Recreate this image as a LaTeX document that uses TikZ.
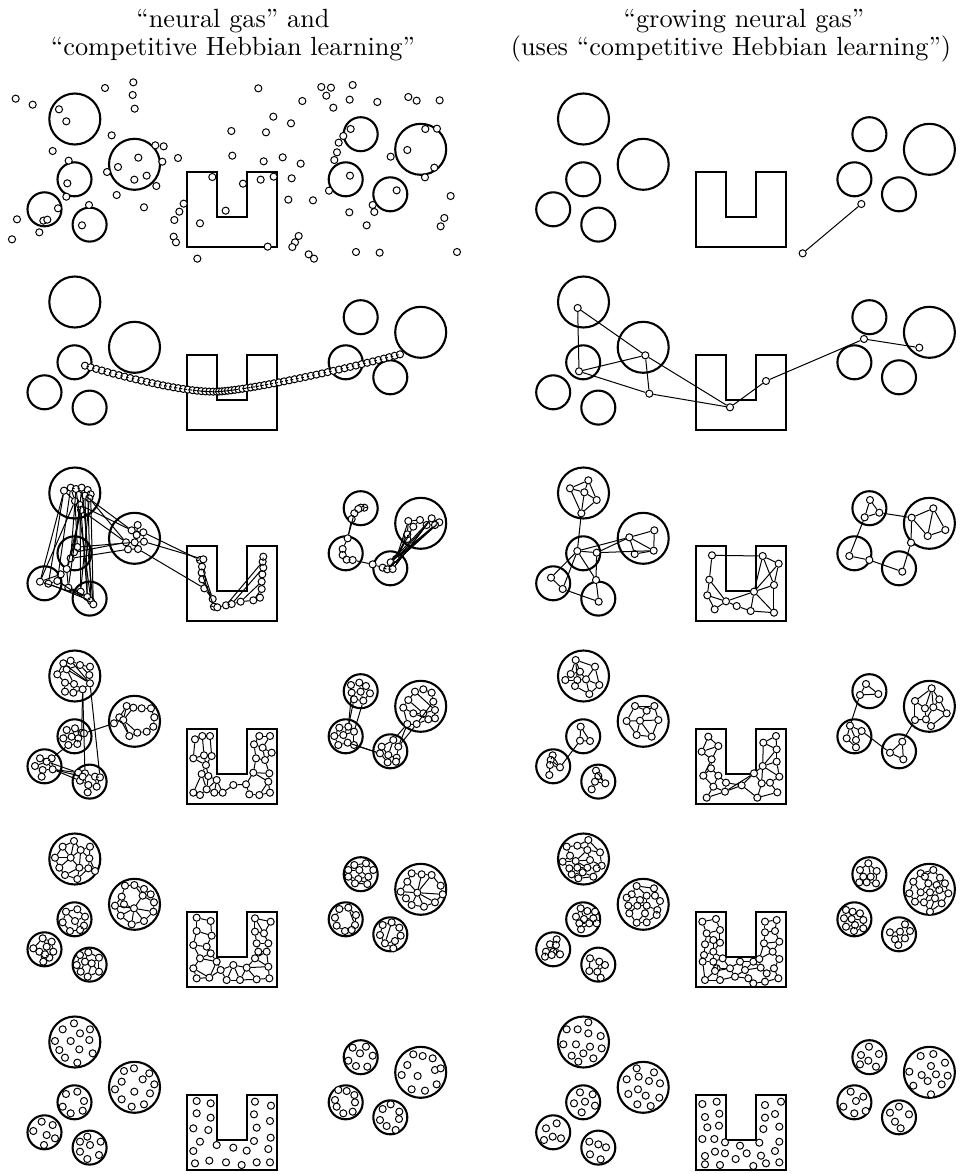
\documentclass[tikz,border=0pt]{standalone}
\usepackage{tikz}

%Circulos y la U de cada campo, con la esquina de la U en (#1,#2)
\newcommand{\campo}[2]{%
	\begin{scope}[shift={(#1,#2)}]
		\draw[borde] (-112.5,-53) circle[radius=25.5];
		\draw[borde] (-52.8,-7.7) circle[radius=25.5];
		\draw[borde] (-112.8,7.3) circle[radius=17];
		\draw[borde] (-142.8,37.3) circle[radius=17];
		\draw[borde] (-97.7,52.6) circle[radius=17];
		\draw[borde] (173.4,-37.8) circle[radius=17];
		\draw[borde] (233.4,-22.7) circle[radius=25.5];
		\draw[borde] (158.4,7.3) circle[radius=17];
		\draw[borde] (203,22.3) circle[radius=17];
		\draw[borde] (0,0) -- (30,0) -- (30,45) -- (60,45) -- (60,0) -- (90,0) -- (90,75) -- (0,75) -- cycle;
	\end{scope}}

\begin{document}
\begin{tikzpicture}[x=0.38pt, y=-0.38pt,
			 punto/.style={circle, draw, fill=white, inner sep=0pt, minimum size=2.7pt, line width=0.38pt},
			 arista/.style={line width=0.38pt},
			 borde/.style={line width=0.8pt},
			 rejilla/.style={x=0.12667pt, y=-0.12667pt},
			 titulo/.style={anchor=base, font=\fontsize{10}{12}\selectfont}
  		]
	\useasboundingbox (0,0) rectangle (967,1174);

	%Titulos
		\node[titulo] (tituloNG) at (233,27) {“neural gas” and};
		\node[titulo] (tituloCHL) at (233,55) {“competitive Hebbian learning”};
		\node[titulo] (tituloGNG) at (744,27) {“growing neural gas”};
		\node[titulo] (tituloUsa) at (731,55) {(uses “competitive Hebbian learning”)};

	%Campos
		\foreach \y in {172,355,546,729,912,1095} {
			\campo{187.3}{\y}
			\campo{696}{\y}
		}

	%Fila 1: neural gas al inicio
	\begin{scope}[shift={(0,0)}, rejilla]
		\foreach \x/\y [count=\i] in {47/296, 98/314, 177/328, 199/364, 315/264, 400/247, 398/285, 404/326, 335/406, 158/453, 206/482, 202/550, 199/590, 267/615, 174/625, 246/676, 51/658, 36/718, 118/697, 130/662, 142/659, 466/436, 491/439, 487/485, 415/473, 354/501, 321/516, 403/539, 440/527, 469/558, 350/585, 432/622, 534/474, 551/611, 538/635, 523/660, 600/670, 521/710, 528/727, 592/776, 637/531, 729/551, 677/632, 782/539, 821/530, 803/740, 775/265, 694/393, 697/467, 820/350, 798/397, 873/370, 907/303, 791/484, 848/472, 902/491, 875/535, 865/599, 939/601, 896/708, 885/727, 877/741, 926/763, 942/776, 964/261, 993/263, 979/287, 1058/255, 1049/299, 1000/323, 1132/306, 1225/291, 1250/302, 1319/301, 1052/387, 1030/408, 1016/428, 1011/457, 1003/480, 1050/527, 987/572, 1048/637, 1100/676, 1118/615, 1123/636, 1190/571, 1172/470, 1222/450, 1276/387, 1311/386, 1303/503, 1275/532, 1352/588, 1333/654, 1322/679, 1371/756, 1068/756, 1139/758}
			\node[punto] (ng1-\i) at (\x,\y) {};
	\end{scope}

	%Fila 1 y 2: growing neural gas
	\begin{scope}[shift={(500,60)}, rejilla]
		\node[punto] (gng1-1) at (1084,432) {};
		\node[punto] (gng1-2) at (908,580) {};
		\draw[arista] (gng1-1) -- (gng1-2);

		\foreach \x/\y [count=\i] in {233/744, 237/934, 436/886, 448/1001, 690/1042, 798/963, 1092/837, 1258/863}
			\node[punto] (gng2-\i) at (\x,\y) {};
		\foreach \a/\b in {1/2, 1/3, 3/5, 2/3, 2/4, 3/4, 4/5, 5/6, 6/7, 7/8}
			\draw[arista] (gng2-\a) -- (gng2-\b);
	\end{scope}

	%Fila 2: neural gas, cadena
	\begin{scope}[shift={(0,265)}, rejilla]
		\foreach \i in {0,...,25}
			\path (255,302) .. controls (400,345) and (560,382) .. (650,380) node[punto, pos=\i/26] (ng2-\i) {};
		\foreach \i [evaluate=\i as \k using int(\i+26)] in {0,...,38}
			\path (650,380) .. controls (740,376) and (1000,322) .. (1200,268) node[punto, pos=\i/38] (ng2-\k) {};
		\foreach \i [evaluate=\i as \j using int(\i+1)] in {0,...,63}
			\draw[arista] (ng2-\i) -- (ng2-\j);
	\end{scope}

	%Fila 3: neural gas
	\begin{scope}[shift={(0,445)}, rejilla]
		\foreach \x/\y [count=\i] in {192/137, 212/128, 228/132, 245/128, 263/135, 272/148, 255/152, 268/160, 225/168, 240/180, 243/195, 232/306, 222/322, 212/340, 200/372, 182/388, 120/410, 145/416, 172/408, 205/428, 242/440, 262/456, 273/468, 280/478, 413/240, 395/256, 430/262, 410/270, 378/292, 404/292, 432/290, 384/313, 414/312, 600/345, 610/343, 606/365, 605/383, 607/403, 613/430, 638/462, 642/485, 652/487, 678/481, 695/477, 722/470, 760/466, 780/458, 785/432, 785/410, 787/388, 790/368, 788/350, 790/335, 1093/188, 1082/188, 1075/192, 1063/205, 1055/222, 1043/280, 1028/312, 1028/330, 1040/344, 1058/345, 1118/358, 1148/368, 1162/373, 1178/372, 1188/342, 1172/352, 1225/228, 1240/245, 1260/225, 1280/240, 1295/220, 1318/232, 1305/240, 1222/282, 1222/268}
			\node[punto] (ng3-\i) at (\x,\y) {};
		\foreach \a/\b in {1/2, 2/3, 3/4, 4/5, 5/6, 6/7, 7/8, 3/7, 1/9, 9/10, 10/11, 2/9, 4/10, 7/11, 5/8, 1/17, 2/19, 9/17, 10/21, 11/22, 3/23, 4/24, 6/24, 7/22, 8/21, 11/14, 10/13, 9/12, 1/18, 5/23, 11/15, 3/14, 10/20, 12/13, 13/14, 14/15, 15/16, 12/30, 13/29, 14/32, 7/26, 8/29, 11/29, 10/26, 17/18, 18/19, 19/20, 20/21, 16/19, 15/20, 17/22, 18/23, 19/24, 20/22, 16/17, 21/22, 22/23, 23/24, 25/26, 26/27, 27/28, 28/30, 29/30, 30/31, 31/27, 32/33, 29/32, 30/33, 25/28, 27/34, 31/35, 33/39, 34/35, 35/36, 36/37, 37/38, 38/39, 39/40, 40/41, 41/42, 42/43, 43/44, 44/45, 45/46, 46/47, 47/48, 48/49, 49/50, 50/51, 51/52, 52/53, 36/40, 38/40, 37/41, 44/51, 43/52, 45/49, 46/48, 54/55, 55/56, 56/57, 57/58, 58/59, 57/59, 59/60, 60/61, 61/62, 62/63, 63/64, 64/65, 65/66, 66/67, 67/69, 68/69, 66/68, 70/71, 71/72, 72/73, 73/74, 74/75, 75/76, 70/72, 76/73, 77/78, 78/70, 68/70, 68/71, 68/73, 68/75, 69/76, 69/74, 66/75, 67/73, 69/77, 68/78, 67/74, 66/76}
			\draw[arista] (ng3-\a) -- (ng3-\b);
	\end{scope}

	%Fila 3: growing neural gas
	\begin{scope}[shift={(500,445)}, rejilla]
		\foreach \x/\y [count=\i] in {210/130, 265/106, 253/142, 290/165, 244/205, 232/318, 290/323, 153/398, 188/432, 288/405, 296/470, 388/277, 463/256, 404/327, 461/317, 636/331, 628/404, 622/451, 644/493, 678/469, 710/483, 752/498, 762/440, 822/503, 822/420, 788/333, 836/356, 1110/165, 1094/217, 1138/203, 1235/218, 1300/190, 1283/273, 1336/255, 1233/293, 1048/333, 1108/345, 1207/380}
			\node[punto] (gng3-\i) at (\x,\y) {};
		\foreach \a/\b in {1/2, 1/3, 2/3, 3/4, 2/4, 1/5, 4/5, 3/5, 5/6, 6/7, 6/8, 6/9, 8/9, 6/10, 7/10, 10/11, 9/11, 6/12, 7/12, 7/15, 12/13, 12/14, 12/15, 13/15, 14/15, 16/17, 16/26, 17/18, 17/20, 18/19, 18/20, 19/20, 20/21, 21/22, 22/23, 20/23, 23/24, 23/25, 23/26, 23/27, 26/27, 26/25, 27/25, 25/24, 22/24, 28/29, 28/30, 29/30, 30/31, 29/36, 31/32, 31/33, 32/33, 32/34, 33/34, 31/35, 35/38, 36/37, 37/38}
			\draw[arista] (gng3-\a) -- (gng3-\b);
	\end{scope}

	%Fila 4: neural gas
	\begin{scope}[shift={(0,630)}, rejilla]
		\foreach \x/\y [count=\i] in {190/100, 212/92, 240/105, 270/110, 172/133, 200/118, 268/135, 195/158, 222/162, 248/178, 270/160, 220/188, 195/185, 200/300, 225/295, 245/308, 190/325, 215/320, 235/325, 205/345, 232/342, 252/310, 380/228, 400/233, 425/235, 453/235, 463/262, 460/290, 440/305, 412/308, 388/318, 358/262, 342/280, 370/270, 120/385, 155/385, 105/408, 140/395, 128/420, 158/418, 125/440, 235/428, 255/430, 285/440, 300/442, 240/452, 265/465, 290/470, 263/487, 248/440, 585/328, 607/318, 630/318, 580/385, 612/376, 635/378, 618/405, 605/432, 625/438, 650/450, 580/488, 600/495, 620/478, 643/488, 668/488, 700/465, 738/463, 760/428, 778/318, 810/318, 762/343, 788/353, 815/368, 768/385, 795/390, 808/430, 805/455, 748/493, 778/495, 810/488, 1053/165, 1078/158, 1098/168, 1055/188, 1082/185, 1110/190, 1062/208, 1090/212, 1018/293, 1045/290, 1003/318, 1030/315, 1062/305, 1015/345, 1043/338, 1062/345, 1145/350, 1180/330, 1195/350, 1165/375, 1190/383, 1163/397, 1188/395, 1140/370, 1245/185, 1270/178, 1295/188, 1225/210, 1300/215, 1210/233, 1240/250, 1270/250, 1305/240, 1222/282, 1250/282, 1285/268, 1305/265}
			\node[punto] (ng4-\i) at (\x,\y) {};
		\foreach \a/\b in {1/2, 2/3, 3/4, 1/5, 5/6, 6/1, 6/3, 3/7, 4/7, 5/8, 8/9, 9/6, 9/10, 10/11, 11/7, 8/13, 13/12, 12/10, 9/12, 6/11, 1/11, 2/11, 10/16, 10/43, 11/45, 14/15, 15/22, 14/17, 17/18, 18/19, 19/22, 15/18, 17/20, 20/21, 21/19, 16/19, 16/22, 22/33, 23/24, 24/25, 25/26, 26/27, 27/28, 28/29, 29/30, 30/31, 23/32, 32/33, 33/34, 34/23, 34/31, 32/31, 34/30, 24/34, 20/36, 35/36, 35/38, 36/38, 37/38, 37/39, 38/40, 39/40, 39/41, 36/40, 40/42, 40/46, 38/42, 40/50, 42/43, 43/44, 44/45, 42/46, 46/47, 47/48, 48/45, 47/49, 43/50, 50/47, 44/48, 51/52, 52/53, 51/54, 52/55, 53/56, 54/55, 55/56, 54/57, 55/57, 56/57, 57/58, 58/59, 57/59, 58/61, 59/60, 59/63, 60/63, 61/62, 62/63, 63/64, 60/64, 64/65, 60/65, 65/66, 66/67, 67/68, 68/76, 68/74, 69/70, 69/71, 70/72, 71/72, 72/73, 71/74, 72/75, 73/75, 74/75, 75/76, 76/77, 77/80, 67/78, 78/79, 79/80, 77/79, 68/77, 58/63, 81/82, 82/83, 81/84, 84/85, 85/83, 83/86, 84/87, 87/88, 88/86, 85/88, 82/85, 87/90, 88/93, 84/90, 89/90, 89/91, 90/92, 91/92, 92/93, 91/94, 94/95, 95/96, 92/95, 93/96, 90/93, 96/104, 95/104, 97/98, 98/99, 97/100, 100/101, 99/101, 100/102, 102/103, 101/103, 97/104, 104/102, 98/100, 99/114, 98/114, 99/115, 105/106, 106/107, 105/108, 107/109, 108/110, 110/111, 111/112, 112/113, 113/109, 110/114, 114/115, 115/116, 116/117, 117/113, 108/112, 105/113, 111/116, 109/115}
			\draw[arista] (ng4-\a) -- (ng4-\b);
	\end{scope}

	%Fila 4: growing neural gas
	\begin{scope}[shift={(500,630)}, rejilla]
		\foreach \x/\y [count=\i] in {227/90, 285/110, 240/125, 212/132, 196/150, 232/150, 258/148, 298/165, 225/168, 268/192, 242/290, 240/332, 270/333, 158/376, 152/390, 150/405, 180/412, 148/435, 288/422, 295/438, 285/455, 316/460, 275/478, 405/228, 463/228, 440/242, 380/273, 420/272, 475/270, 410/315, 455/320, 625/320, 605/365, 655/348, 635/388, 610/437, 633/415, 655/437, 640/470, 678/458, 620/503, 675/485, 725/466, 762/430, 788/408, 790/338, 828/318, 830/358, 830/395, 838/440, 785/460, 810/458, 832/487, 772/503, 1098/162, 1080/195, 1135/192, 1050/287, 1085/303, 1040/325, 1068/330, 1068/352, 1207/335, 1170/368, 1210/388, 1295/175, 1245/213, 1318/208, 1275/235, 1300/232, 1340/250, 1245/270, 1278/268, 1293/288}
			\node[punto] (gng4-\i) at (\x,\y) {};
		\foreach \a/\b in {1/2, 1/3, 1/4, 3/4, 3/6, 4/5, 5/6, 6/7, 7/2, 2/8, 7/8, 6/9, 9/10, 10/8, 7/10, 3/7, 1/6, 11/12, 12/13, 11/13, 12/17, 14/15, 15/16, 16/17, 17/14, 16/18, 15/17, 19/20, 20/21, 21/22, 20/22, 21/23, 19/22, 24/25, 24/26, 25/26, 24/27, 27/28, 26/28, 28/29, 25/29, 27/30, 28/30, 30/31, 29/31, 28/31, 32/33, 32/34, 33/34, 33/35, 34/35, 35/37, 35/36, 36/37, 37/38, 36/39, 38/39, 38/40, 39/41, 39/42, 41/42, 40/42, 42/43, 40/43, 43/44, 42/44, 44/45, 45/46, 46/47, 46/48, 47/48, 45/48, 48/49, 45/49, 49/50, 45/50, 50/52, 51/52, 45/51, 44/51, 51/54, 52/53, 54/53, 43/54, 55/56, 55/57, 56/57, 56/58, 58/59, 58/60, 58/61, 61/62, 60/62, 59/61, 59/64, 63/64, 63/65, 64/65, 63/72, 66/67, 66/68, 66/69, 66/70, 67/69, 67/72, 69/70, 70/68, 68/71, 70/71, 69/73, 70/73, 72/73, 73/74, 71/74}
			\draw[arista] (gng4-\a) -- (gng4-\b);
	\end{scope}

	%Fila 5: neural gas
	\begin{scope}[shift={(0,815)}, rejilla]
		\foreach \x/\y [count=\i] in {188/95, 222/78, 242/105, 270/95, 165/128, 212/128, 268/130, 178/158, 238/158, 265/160, 195/180, 232/192, 285/168, 375/212, 403/210, 432/222, 452/238, 365/245, 428/242, 462/262, 345/272, 402/280, 460/290, 362/302, 395/328, 432/318, 372/268, 198/290, 232/283, 255/305, 188/322, 252/332, 210/348, 240/345, 225/318, 128/370, 155/380, 100/400, 140/395, 118/410, 160/410, 148/428, 130/440, 135/418, 240/420, 265/412, 297/428, 230/450, 255/440, 275/445, 297/470, 242/470, 263/485, 590/308, 632/318, 590/348, 635/362, 580/390, 620/395, 600/430, 632/415, 650/440, 580/460, 590/490, 628/488, 662/465, 700/450, 680/495, 720/495, 740/458, 770/493, 808/490, 805/455, 765/430, 800/410, 775/410, 770/385, 805/385, 765/350, 792/355, 765/310, 812/320, 1063/150, 1098/145, 1045/165, 1078/165, 1120/165, 1045/185, 1075/192, 1105/185, 1065/205, 1102/207, 1235/175, 1265/178, 1295/180, 1222/200, 1322/212, 1202/230, 1252/233, 1328/238, 1235/270, 1272/275, 1305/262, 1218/250, 1018/282, 1045/278, 1068/300, 1005/308, 1065/330, 1010/332, 1035/348, 1055/345, 1148/330, 1175/322, 1198/338, 1140/360, 1202/362, 1155/385, 1185/378, 1180/400}
			\node[punto] (ng5-\i) at (\x,\y) {};
		\foreach \a/\b in {1/2, 2/3, 3/4, 1/5, 1/6, 2/6, 3/6, 3/7, 4/7, 5/6, 5/8, 6/9, 6/8, 7/10, 9/10, 7/13, 10/13, 8/11, 9/11, 9/12, 11/12, 12/10, 3/9, 14/15, 15/16, 16/17, 14/18, 16/19, 17/20, 19/20, 18/21, 18/27, 19/22, 21/24, 24/25, 25/26, 20/23, 23/26, 22/21, 22/24, 22/25, 22/26, 22/23, 22/27, 15/19, 28/29, 29/30, 28/31, 30/32, 31/33, 33/34, 34/32, 35/34, 35/30, 35/28, 36/37, 36/38, 38/40, 36/39, 39/37, 37/41, 39/41, 39/44, 40/44, 44/42, 41/42, 42/43, 40/43, 45/46, 46/47, 45/48, 45/49, 49/46, 49/50, 50/47, 48/52, 49/52, 50/51, 47/51, 52/53, 53/51, 50/53, 54/55, 54/56, 55/57, 56/57, 56/58, 57/59, 58/59, 58/60, 59/61, 60/61, 61/62, 60/63, 60/62, 63/64, 63/65, 64/65, 65/62, 62/66, 65/66, 66/67, 66/68, 67/68, 68/69, 67/69, 69/70, 67/70, 70/71, 69/71, 70/74, 71/72, 72/73, 73/70, 73/74, 74/75, 73/75, 74/76, 75/76, 76/77, 77/78, 75/78, 77/79, 78/80, 79/80, 79/81, 80/82, 81/82, 80/81, 83/84, 83/85, 84/87, 85/86, 86/83, 86/84, 85/88, 86/89, 87/90, 88/89, 89/90, 88/91, 91/92, 89/92, 90/92, 86/90, 93/94, 94/95, 93/96, 95/97, 96/98, 97/100, 98/104, 104/101, 101/102, 102/103, 103/100, 99/96, 99/98, 99/101, 99/102, 99/103, 99/100, 99/95, 99/94, 105/106, 106/107, 105/108, 107/109, 108/110, 110/111, 111/112, 112/109, 106/109, 113/114, 114/115, 113/116, 115/117, 116/118, 118/119, 119/117, 119/120, 114/118, 118/120}
			\draw[arista] (ng5-\a) -- (ng5-\b);
	\end{scope}

	%Fila 5: growing neural gas
	\begin{scope}[shift={(500,815)}, rejilla]
		\foreach \x/\y [count=\i] in {200/95, 232/92, 265/75, 262/105, 300/112, 210/122, 188/140, 227/138, 270/135, 305/152, 208/160, 232/158, 262/158, 290/160, 215/178, 248/172, 280/185, 235/190, 410/213, 462/220, 395/238, 440/242, 465/242, 380/248, 420/255, 480/258, 385/272, 412/272, 440/272, 472/285, 388/295, 435/295, 410/323, 440/322, 470/300, 242/280, 262/288, 285/290, 228/305, 252/312, 280/310, 238/325, 268/325, 243/343, 290/325, 170/373, 150/388, 168/390, 138/410, 160/410, 180/418, 135/425, 155/420, 270/430, 298/440, 315/450, 268/468, 292/470, 302/488, 607/320, 648/312, 660/345, 620/355, 640/375, 615/388, 660/383, 612/420, 640/410, 668/430, 608/440, 640/440, 650/460, 615/495, 645/468, 660/495, 690/460, 705/485, 720/440, 735/465, 745/490, 760/440, 760/505, 778/432, 782/458, 800/475, 795/500, 822/460, 838/432, 835/490, 818/410, 792/385, 838/380, 795/352, 825/348, 795/320, 830/315, 1105/145, 1080/165, 1130/168, 1090/185, 1112/185, 1078/202, 1100/202, 1128/205, 1262/175, 1300/165, 1275/185, 1320/188, 1240/200, 1285/205, 1310/210, 1335/205, 1228/235, 1262/232, 1290/232, 1318/225, 1345/235, 1245/260, 1272/262, 1305/250, 1325/265, 1290/290, 1038/285, 1058/290, 1080/295, 1032/310, 1055/312, 1090/315, 1038/335, 1065/330, 1062/348, 1090/340, 1215/328, 1170/352, 1200/350, 1230/348, 1185/373, 1215/370, 1195/390}
			\node[punto] (gng5-\i) at (\x,\y) {};
		\foreach \a/\b in {1/2, 2/3, 3/4, 4/5, 3/5, 1/6, 6/8, 7/8, 6/7, 8/9, 4/9, 2/4, 9/10, 5/10, 7/11, 8/12, 11/12, 12/13, 9/13, 13/14, 10/14, 11/15, 12/16, 15/16, 13/16, 14/17, 16/17, 15/18, 16/18, 18/17, 8/13, 4/8, 19/20, 19/21, 20/23, 19/22, 22/23, 21/24, 21/25, 22/25, 23/26, 24/27, 25/28, 27/28, 28/29, 29/22, 26/30, 29/30, 27/31, 28/31, 31/33, 32/33, 29/32, 32/34, 33/34, 34/35, 30/35, 25/29, 36/37, 37/38, 36/39, 36/40, 37/40, 40/41, 38/41, 39/42, 40/42, 42/43, 41/43, 42/44, 43/44, 41/45, 43/45, 46/47, 46/48, 47/48, 47/49, 48/50, 49/50, 48/51, 50/51, 49/52, 50/53, 52/53, 51/53, 54/55, 55/56, 54/57, 55/58, 57/58, 58/59, 56/58, 60/61, 60/63, 61/62, 62/63, 63/64, 62/66, 64/66, 63/65, 64/65, 65/67, 64/68, 66/68, 67/68, 68/69, 67/70, 70/71, 68/71, 71/69, 71/72, 70/73, 72/74, 73/74, 74/75, 73/75, 72/76, 69/76, 74/76, 75/77, 76/77, 76/78, 77/79, 78/79, 79/80, 77/80, 78/81, 79/81, 80/82, 81/83, 81/84, 83/84, 84/85, 79/84, 85/86, 82/86, 85/87, 87/88, 87/89, 86/89, 83/90, 88/90, 90/91, 90/92, 91/92, 91/93, 92/94, 93/94, 93/95, 94/96, 95/96, 83/91, 97/98, 97/99, 98/100, 99/101, 100/101, 100/102, 101/103, 102/103, 103/104, 99/104, 97/101, 105/106, 105/107, 106/107, 106/108, 105/109, 107/110, 108/111, 110/111, 111/112, 108/112, 109/113, 109/114, 110/114, 114/115, 110/115, 115/116, 111/116, 116/117, 112/117, 113/118, 114/118, 118/119, 115/119, 119/120, 116/120, 120/121, 117/121, 119/122, 120/122, 121/122, 123/124, 124/125, 123/126, 124/127, 126/127, 125/128, 127/128, 126/129, 127/130, 129/130, 130/131, 129/131, 128/132, 130/132, 131/132, 133/135, 133/136, 134/135, 134/137, 135/137, 135/138, 136/138, 137/139, 138/139}
			\draw[arista] (gng5-\a) -- (gng5-\b);
	\end{scope}

	%Fila 6: neural gas al final
	\begin{scope}[shift={(0,995)}, rejilla]
		\foreach \x/\y [count=\i] in {222/85, 188/103, 240/115, 270/103, 165/138, 212/138, 268/135, 178/165, 238/163, 278/175, 195/188, 232/203, 372/228, 402/220, 448/235, 365/260, 428/253, 463/268, 345/283, 403/290, 450/295, 365/313, 395/335, 432/328, 198/297, 232/290, 188/335, 252/318, 212/355, 248/347, 125/380, 158/390, 100/408, 140/420, 165/430, 132/450, 240/440, 262/425, 302/440, 240/470, 270/450, 262/492, 297/480, 590/318, 632/325, 590/355, 632/368, 580/400, 625/405, 600/440, 580/468, 650/450, 585/505, 628/497, 678/502, 725/510, 770/502, 810/502, 700/458, 740/467, 805/462, 762/438, 812/428, 770/398, 810/378, 762/358, 813/332, 765/320, 1058/158, 1098/155, 1080/175, 1118/182, 1045/197, 1068/213, 1102/215, 1240/178, 1268/183, 1298/190, 1222/210, 1305/225, 1322/220, 1205/240, 1253/243, 1310/268, 1235/283, 1275/287, 1015/285, 1040/288, 1063/300, 1005/315, 1065/322, 1010/335, 1030/355, 1058/350, 1148/342, 1172/328, 1198/350, 1140/375, 1197/372, 1160/393, 1187/405}
			\node[punto] (ng6-\i) at (\x,\y) {};
	\end{scope}

	%Fila 6: growing neural gas al final
	\begin{scope}[shift={(500,995)}, rejilla]
		\foreach \x/\y [count=\i] in {265/82, 200/103, 233/103, 265/115, 302/123, 190/148, 228/148, 270/155, 305/160, 250/175, 215/182, 235/200, 280/190, 410/220, 462/232, 380/253, 416/245, 447/258, 480/265, 385/297, 414/283, 437/302, 478/308, 412/328, 452/333, 240/292, 278/298, 222/325, 255/320, 285/332, 245/352, 170/385, 138/400, 158/425, 132/435, 183/430, 268/440, 295/448, 318/457, 270/478, 302/493, 607/327, 650/320, 615/366, 658/356, 622/397, 657/392, 607/432, 643/432, 675/442, 720/452, 778/443, 645/470, 675/475, 707/492, 740/475, 783/482, 615/483, 615/508, 660/510, 760/513, 798/505, 838/502, 825/468, 838/440, 838/395, 790/402, 795/368, 825/357, 795/330, 843/320, 1107/155, 1083/180, 1137/177, 1105/197, 1080/208, 1128/215, 1262/183, 1300/177, 1335/203, 1293/213, 1228/230, 1265/240, 1308/238, 1343/242, 1283/258, 1240/272, 1325/268, 1293/298, 1052/290, 1090/305, 1068/318, 1030/335, 1063/355, 1097/348, 1197/335, 1170/353, 1227/358, 1185/380, 1202/400}
			\node[punto] (gng6-\i) at (\x,\y) {};
	\end{scope}
\end{tikzpicture}
\end{document}
